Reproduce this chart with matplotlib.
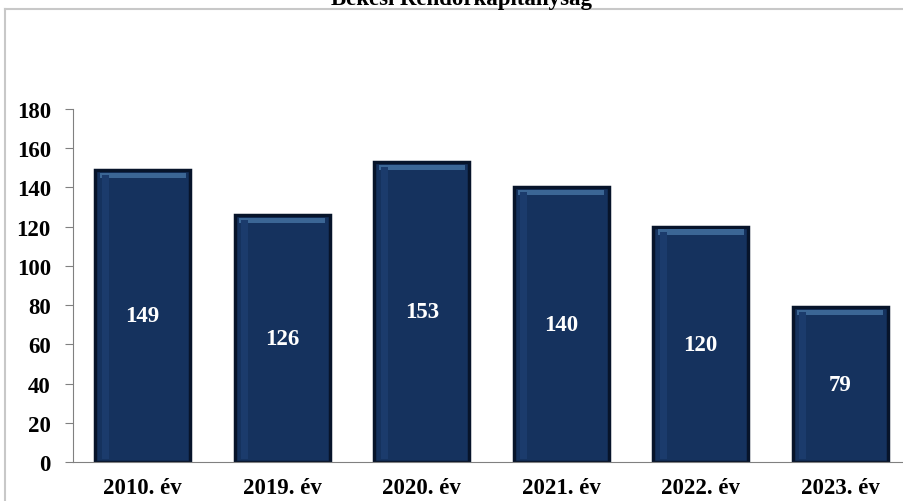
import matplotlib
matplotlib.use("Agg")
import matplotlib.pyplot as plt
from matplotlib.lines import Line2D

categories = ["2010. év", "2019. év", "2020. év", "2021. év", "2022. év", "2023. év"]
values = [149, 126, 153, 140, 120, 79]
yticks = [0, 20, 40, 60, 80, 100, 120, 140, 160, 180]
title = "Békési Rendőrkapitányság"

plt.rcParams['font.family'] = ['Liberation Serif', 'DejaVu Serif']

fig = plt.figure(figsize=(9.04, 5.02), dpi=100)
ax = fig.add_axes([73/904, 1-463/502, 837/904, (463-110)/502])

x = list(range(len(categories)))
ax.bar(x, values, width=0.68, color="#15325e", edgecolor="#07142a", linewidth=2.5, zorder=2)
# lighter top strip
ax.bar(x, [2.6]*len(values), bottom=[v-4.0 for v in values], width=0.62,
       color="#3b6695", linewidth=0, zorder=3)
# subtle lighter left strip
ax.bar([i-0.27 for i in x], [v-4 for v in values], bottom=1.5, width=0.05,
       color="#1b3b6c", linewidth=0, zorder=3)

for i, v in enumerate(values):
    ax.text(i, v/2, str(v), ha='center', va='center', color='white',
            fontsize=16.5, fontweight='bold', zorder=4)

ax.set_xlim(-0.5, len(categories)-0.5)
ax.set_ylim(0, 180)
ax.set_yticks(yticks)
ax.set_yticklabels([str(t) for t in yticks], fontsize=16.5, fontweight='bold')
ax.set_xticks(x)
ax.set_xticklabels(categories, fontsize=16.5, fontweight='bold')
ax.tick_params(axis='x', length=0, pad=11)
ax.tick_params(axis='y', length=6, color='#808080', pad=10)
for s in ['top', 'right']:
    ax.spines[s].set_visible(False)
ax.spines['left'].set_color('#808080')
ax.spines['bottom'].set_color('#808080')

# outer frame lines
fig.add_artist(Line2D([5/904, 1], [1-10/502, 1-10/502], transform=fig.transFigure, color='#c8c8c8', lw=1.5))
fig.add_artist(Line2D([5/904, 5/904], [0, 1-10/502], transform=fig.transFigure, color='#c8c8c8', lw=1.5))

fig.text(462/904, 1-5/502, title, ha='center', va='baseline', fontsize=16.5, fontweight='bold')

fig.savefig("out.png", dpi=100)
